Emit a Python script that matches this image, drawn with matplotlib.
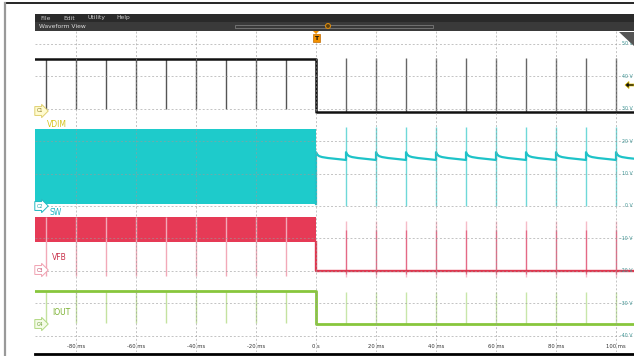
import numpy as np
import matplotlib
matplotlib.use("Agg")
from matplotlib import pyplot as plt
from matplotlib.patches import Rectangle, Polygon, Circle
from matplotlib.lines import Line2D
from matplotlib.transforms import Affine2D, blended_transform_factory

# ---- data (time in ms, level in V) ----
t_pre_spikes = [-90, -80, -70, -60, -50, -40, -30, -20, -10]
t_post_spikes = [10, 20, 30, 40, 50, 60, 70, 80, 90, 100]
t_periods = [0, 10, 20, 30, 40, 50, 60, 70, 80, 90, 100]

# C1 (VDIM)
vdim_pre, vdim_pre_spike = 45.4, 29.8
vdim_post, vdim_post_spike = 29.0, 45.8
# C2 (SW)
sw_band_low, sw_band_high = 0.6, 23.8
sw_spike_low, sw_spike_high = 0.0, 24.5
sw_offset = [0.0, 0.3, 1.0, 2.0, 4.0, 6.0, 8.0, 10.0]
sw_shape = [16.6, 16.0, 15.4, 15.1, 14.8, 14.6, 14.4, 14.2]
# C3 (VFB)
vfb_band_low, vfb_band_high = -11.1, -3.4
vfb_pre_spike = -21.5
vfb_post, vfb_post_spike, vfb_post_spike_dark, vfb_post_spike_low = -20.0, -4.5, -7.5, -22.0
# C4 (IOUT)
iout_pre, iout_pre_spike = -26.3, -36.0
iout_post, iout_post_spike = -36.3, -26.5

time_ticks = [-80, -60, -40, -20, 0, 20, 40, 60, 80, 100]
time_labels = ["-80 ms", "-60 ms", "-40 ms", "-20 ms", "0 s",
               "20 ms", "40 ms", "60 ms", "80 ms", "100 ms"]
volt_ticks = [50, 40, 30, 20, 10, 0, -10, -20, -30, -40]
volt_labels = ["50 V", "40 V", "30 V", "20 V", "10 V", "0 V",
               "-10 V", "-20 V", "-30 V", "-40 V"]
menu_items = ["File", "Edit", "Utility", "Help"]

t_start, t_end = -95, 110

fig = plt.figure(figsize=(6.34, 3.56), dpi=100)
# pixel coordinates, origin top-left
px = Affine2D().scale(1 / 634, -1 / 356).translate(0, 1) + fig.transFigure

ax = fig.add_axes([35 / 634, 4 / 356, 599 / 634, 321 / 356])
ax.set_xlim(-93.67, 106)
ax.set_ylim(-45.06, 54.0)
for s in ax.spines.values():
    s.set_visible(False)
ax.set_xticks(time_ticks)
ax.set_yticks(volt_ticks)
ax.tick_params(length=0, labelbottom=False, labelleft=False)
ax.set_axisbelow(False)
ax.grid(color='#9a9a9a', alpha=0.6, lw=0.7, ls=(0, (2, 2)))

# C2 SW
ax.fill_between([t_start, 0], sw_band_low, sw_band_high, color='#1ecbcb', lw=0)
ax.vlines(t_post_spikes, sw_spike_low, sw_spike_high, color='#6fd8d8', lw=1.0)
sw_t = np.concatenate([np.array(sw_offset) + p for p in t_periods])
sw_v = np.concatenate([sw_shape for p in t_periods])
ax.plot(np.r_[0, sw_t], np.r_[sw_band_low, sw_v], color='#1ec3c8', lw=1.6)

# C1 VDIM
ax.vlines(t_pre_spikes, vdim_pre_spike, vdim_pre, color='#555555', lw=1.0)
ax.vlines(t_post_spikes, vdim_post, vdim_post_spike, color='#666666', lw=1.0)
ax.plot([t_start, 0, 0, t_end], [vdim_pre, vdim_pre, vdim_post, vdim_post],
        color='#111111', lw=1.8)

# C3 VFB
ax.fill_between([t_start, 0], vfb_band_low, vfb_band_high, color='#e63a56', lw=0)
ax.vlines(t_pre_spikes, vfb_pre_spike, vfb_band_high, color='#f2a9b8', lw=1.0)
ax.vlines(t_post_spikes, vfb_post_spike_low, vfb_post_spike, color='#f5bcc8', lw=1.0)
ax.vlines(t_post_spikes, vfb_post_spike_low + 1, vfb_post_spike_dark, color='#e46a86', lw=0.9)
ax.plot([0, 0, t_end], [vfb_band_low, vfb_post, vfb_post], color='#e0364f', lw=1.7)

# C4 IOUT
ax.vlines(t_pre_spikes, iout_pre_spike, iout_pre, color='#c4e2a0', lw=1.0)
ax.vlines(t_post_spikes, iout_post, iout_post_spike, color='#c8e6aa', lw=1.0)
ax.plot([t_start, 0, 0, t_end], [iout_pre, iout_pre, iout_post, iout_post],
        color='#88c63c', lw=2.0)

# axis text drawn on screen like the scope does
bx = blended_transform_factory(ax.transData, px)
for t, lab in zip(time_ticks, time_labels):
    ax.text(t, 347, lab, transform=bx, fontsize=3.8, color='#333333',
            ha='center', va='center')
by = blended_transform_factory(px, ax.transData)
for v, lab in zip(volt_ticks, volt_labels):
    ax.text(633, v, lab, transform=by, fontsize=3.4, color='#3c9494',
            ha='right', va='center')

# ---- window chrome ----
fig.add_artist(Line2D([5, 634], [3, 3], transform=px, color='black', lw=1.2))
fig.add_artist(Line2D([5, 5], [3, 356], transform=px, color='#999999', lw=1.6))
fig.add_artist(Line2D([35, 634], [354, 354], transform=px, color='black', lw=2))
fig.add_artist(Rectangle((35, 14), 599, 8, transform=px, color='#2a2a2a', lw=0))
fig.add_artist(Rectangle((35, 22), 599, 9, transform=px, color='#3a3a3a', lw=0))
for x, item in zip([40, 63, 87, 116], menu_items):
    fig.text(x, 18, item, transform=px, fontsize=4.3, color='#d0d0d0', va='center')
fig.text(39, 26.5, "Waveform View", transform=px, fontsize=4.3, color='#dddddd', va='center')
fig.add_artist(Rectangle((235, 24.5), 198, 3.5, transform=px, fill=False,
                         ec='#7a7a7a', lw=0.6))
fig.add_artist(Circle((328, 26), 2.5, transform=px, fc='#5a3f10', ec='#d88a10', lw=0.8))

# trigger marker
fig.add_artist(Polygon([(313, 31), (319, 31), (316, 34)], closed=True,
                       transform=px, fc='#f39200', lw=0))
fig.add_artist(Rectangle((312.5, 34), 7, 8, transform=px, fc='#f39200',
                         ec='#c06a00', lw=0.5))
fig.text(316, 38.3, "T", transform=px, fontsize=4.5, color='#111111',
         ha='center', va='center', weight='bold')

# corner zoom triangle and reference arrow
fig.add_artist(Polygon([(619, 32), (634, 32), (634, 46)], closed=True,
                       transform=px, fc='#555555', lw=0))
fig.add_artist(Polygon([(625, 85), (629, 81.5), (629, 84), (634, 84),
                        (634, 86), (629, 86), (629, 88.5)], closed=True,
                       transform=px, fc='#111111', ec='#e0c000', lw=0.5))

# channel badges and names
badges = [("C1", 111, '#fffbd0', '#e0d070', '#8a7a20'),
          ("C2", 206, '#ffffff', '#20b8c0', '#20a0a8'),
          ("C3", 270, '#ffffff', '#f0a0b0', '#c04060'),
          ("C4", 324, '#f4fbe8', '#b0d880', '#6a9a30')]
for name, y, fc, ec, tc in badges:
    fig.text(40, y, name, transform=px, fontsize=3.5, color=tc, ha='center',
             va='center', bbox=dict(boxstyle='rarrow,pad=0.4', fc=fc, ec=ec, lw=0.7))
names = [("VDIM", 47, 124.5, '#d4c21a'), ("SW", 50, 212.5, '#20b4c4'),
         ("VFB", 52, 257, '#c8304a'), ("IOUT", 52, 312.5, '#7ab030')]
for name, x, y, c in names:
    fig.text(x, y, name, transform=px, fontsize=5.5, color=c, va='center')

fig.savefig("out.png", dpi=100)
